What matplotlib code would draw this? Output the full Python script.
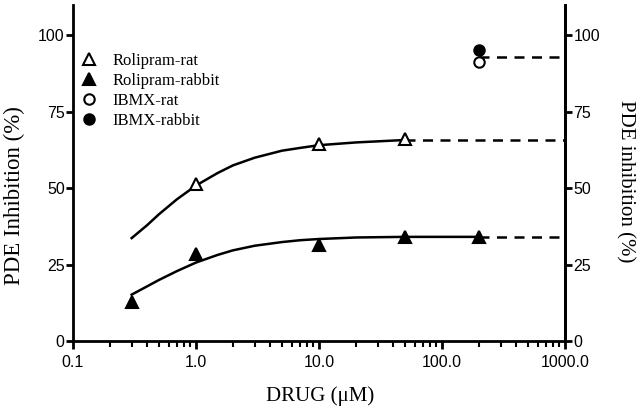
import matplotlib
matplotlib.use("Agg")
import matplotlib.pyplot as plt
from matplotlib.ticker import LogLocator, NullFormatter

# Data points
rat_x = [1.0, 10.0, 50.0]
rat_y = [51.5, 64.6, 66.0]
rabbit_x = [0.3, 1.0, 10.0, 50.0, 200.0]
rabbit_y = [12.8, 28.6, 31.6, 34.2, 34.0]
ibmx_x = [200.0]
ibmx_rat_y = [91.4]
ibmx_rabbit_y = [95.4]

# Fitted curves
rat_curve_x = [0.3, 0.4, 0.5, 0.7, 1.0, 1.5, 2.0, 3.0, 5.0, 7.0, 10.0, 20.0, 50.0]
rat_curve_y = [33.7, 37.9, 41.5, 46.4, 50.9, 55.0, 57.5, 60.0, 62.3, 63.2, 64.1, 65.0, 65.8]
rabbit_curve_x = [0.3, 0.4, 0.5, 0.7, 1.0, 1.5, 2.0, 3.0, 5.0, 7.0, 10.0, 20.0, 50.0, 200.0]
rabbit_curve_y = [15.2, 17.9, 20.0, 22.9, 25.7, 28.2, 29.7, 31.2, 32.4, 33.0, 33.4, 33.9, 34.1, 34.1]

# Dashed plateau lines
rat_plateau = 65.8
rabbit_plateau = 33.9
ibmx_plateau = 92.8

xticks = [0.1, 1.0, 10.0, 100.0, 1000.0]
xticklabels = ["0.1", "1.0", "10.0", "100.0", "1000.0"]
yticks = [0, 25, 50, 75, 100]

fig = plt.figure(figsize=(6.4, 4.08), dpi=100)
ax = fig.add_axes([0.114, 0.164, 0.769, 0.824])
ax.set_xscale("log")
ax.set_xlim(0.1, 1000)
ax.set_ylim(0, 110)

lw = 1.8
dash = (0, (4, 3))
ax.plot(rat_curve_x, rat_curve_y, color="black", lw=lw, zorder=2)
ax.plot(rabbit_curve_x, rabbit_curve_y, color="black", lw=lw, zorder=2)
ax.plot([rat_curve_x[-1], 1000], [rat_plateau, rat_plateau], color="black", lw=lw, ls=dash, clip_on=False)
ax.plot([rabbit_curve_x[-1], 1000], [rabbit_plateau, rabbit_plateau], color="black", lw=lw, ls=dash, clip_on=False)
ax.plot([ibmx_x[0], 1000], [ibmx_plateau, ibmx_plateau], color="black", lw=lw, ls=dash, clip_on=False)

ms = 8
h1, = ax.plot(rat_x, rat_y, ls="none", marker="^", ms=ms, mfc="white", mec="black", mew=1.5, zorder=3, label="Rolipram-rat")
h2, = ax.plot(rabbit_x, rabbit_y, ls="none", marker="^", ms=ms, mfc="black", mec="black", mew=1.5, zorder=3, label="Rolipram-rabbit")
h3, = ax.plot(ibmx_x, ibmx_rat_y, ls="none", marker="o", ms=7.5, mfc="white", mec="black", mew=1.5, zorder=3, label="IBMX-rat")
h4, = ax.plot(ibmx_x, ibmx_rabbit_y, ls="none", marker="o", ms=7.5, mfc="black", mec="black", mew=1.5, zorder=3, label="IBMX-rabbit")

for s in ["left", "right", "bottom"]:
    ax.spines[s].set_linewidth(2)
ax.spines["top"].set_visible(False)

tickfont = {"family": "Liberation Sans", "size": 11.5}
ax.set_xticks(xticks)
ax.set_xticklabels(xticklabels, **tickfont)
ax.xaxis.set_minor_locator(LogLocator(base=10, subs=range(2, 10), numticks=20))
ax.xaxis.set_minor_formatter(NullFormatter())
ax.tick_params(axis="x", which="major", length=6, width=2, direction="out", pad=4)
ax.tick_params(axis="x", which="minor", length=4, width=1.5, direction="out")

ax.set_yticks(yticks)
ax.set_yticklabels([str(v) for v in yticks], **tickfont)
ax.tick_params(axis="y", which="major", length=5, width=2, direction="out", pad=1)

ax2 = ax.twinx()
ax2.set_ylim(0, 110)
ax2.set_yticks(yticks)
ax2.set_yticklabels([str(v) for v in yticks], **tickfont)
ax2.tick_params(axis="y", which="major", length=5, width=2, direction="out", pad=1)
for s in ["top", "left", "bottom"]:
    ax2.spines[s].set_visible(False)
ax2.spines["right"].set_linewidth(2)

W, H = 640.0, 408.0
fig.text(320 / W, 1 - 396 / H, "DRUG (μM)", family="Liberation Serif", fontsize=15,
         ha="center", va="center")
fig.text(14 / W, 1 - 196 / H, "PDE Inhibition (%)", family="Liberation Serif", fontsize=16.5,
         rotation=90, ha="center", va="center")
fig.text(625 / W, 1 - 181 / H, "PDE inhibition (%)", family="Liberation Serif", fontsize=15,
         rotation=-90, ha="center", va="center")

leg = ax.legend(handles=[h1, h2, h3, h4], loc="upper left", bbox_to_anchor=(0.016, 0.856),
                frameon=False, prop={"family": "Liberation Serif", "size": 12},
                handlelength=1.0, handletextpad=0.9, labelspacing=0.23, borderaxespad=0,
                borderpad=0)

fig.savefig("out.png", dpi=100)
